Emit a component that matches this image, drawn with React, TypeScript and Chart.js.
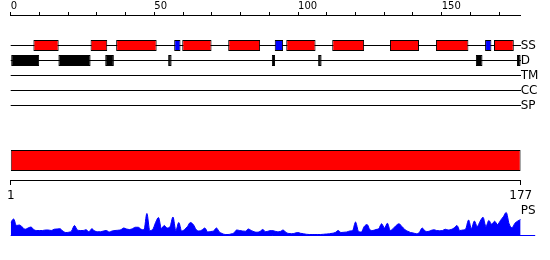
import React, { useEffect, useRef } from 'react';
import { Chart, registerables } from 'chart.js';

Chart.register(...registerables);

// ---------- data ----------
const SEQ_START = 1;
const SEQ_END = 177;
const RULER_MIN = 0;
const RULER_MAX = 177.5;
const RULER_STEP = 10;
const RULER_LABEL_EVERY = 50;

const TRACK_LABELS = ['SS', 'D', 'TM', 'CC', 'SP'];
const PS_LABEL = 'PS';

// secondary structure: helices (red) and strands (blue), [start, end] on the ruler
const HELIX_SEGMENTS: [number, number][] = [
  [7.9, 16.7], [27.8, 33.6], [36.7, 50.8], [59.7, 69.9], [75.7, 86.8],
  [95.9, 106.1], [111.9, 123.0], [132.0, 142.1], [148.0, 159.3], [168.2, 175.1],
];
const STRAND_SEGMENTS: [number, number][] = [
  [56.9, 59.1], [91.9, 94.8], [165.1, 167.3],
];
// disorder
const DISORDER_SEGMENTS: [number, number][] = [
  [0, 9.9], [16.6, 27.8], [32.9, 35.9], [54.8, 56.0], [90.9, 92.0],
  [107.0, 108.2], [161.9, 164.2], [176.2, 177.5],
];
// domain bar
const DOMAIN_SEGMENTS: [number, number][] = [[1, 177]];

// PS profile, residues 1..177
const PS_SCORES: number[] = [
  0.52, 0.66, 0.40, 0.42, 0.34, 0.25, 0.30, 0.34, 0.23, 0.20,
  0.20, 0.20, 0.22, 0.22, 0.20, 0.25, 0.26, 0.27, 0.18, 0.12,
  0.13, 0.18, 0.40, 0.22, 0.20, 0.20, 0.23, 0.15, 0.27, 0.18,
  0.15, 0.15, 0.18, 0.20, 0.14, 0.18, 0.20, 0.21, 0.23, 0.30,
  0.26, 0.24, 0.27, 0.33, 0.33, 0.25, 0.23, 0.88, 0.20, 0.24,
  0.52, 0.72, 0.28, 0.40, 0.30, 0.36, 0.74, 0.20, 0.52, 0.18,
  0.24, 0.36, 0.52, 0.44, 0.24, 0.18, 0.22, 0.30, 0.14, 0.16,
  0.18, 0.30, 0.14, 0.08, 0.04, 0.04, 0.06, 0.10, 0.22, 0.20,
  0.18, 0.17, 0.26, 0.20, 0.15, 0.13, 0.16, 0.24, 0.15, 0.18,
  0.20, 0.18, 0.15, 0.16, 0.22, 0.12, 0.08, 0.07, 0.09, 0.12,
  0.09, 0.07, 0.05, 0.04, 0.04, 0.04, 0.04, 0.04, 0.05, 0.06,
  0.07, 0.09, 0.12, 0.20, 0.12, 0.13, 0.14, 0.18, 0.20, 0.54,
  0.17, 0.14, 0.36, 0.44, 0.22, 0.20, 0.24, 0.27, 0.47, 0.30,
  0.49, 0.20, 0.28, 0.40, 0.47, 0.36, 0.24, 0.17, 0.12, 0.10,
  0.07, 0.12, 0.30, 0.18, 0.16, 0.20, 0.23, 0.20, 0.19, 0.20,
  0.25, 0.22, 0.24, 0.30, 0.40, 0.20, 0.22, 0.26, 0.62, 0.28,
  0.58, 0.36, 0.57, 0.73, 0.36, 0.60, 0.45, 0.57, 0.44, 0.60,
  0.75, 0.92, 0.47, 0.31, 0.49, 0.58, 0.64,
];
const PS_BASELINE_END = 182;

// ---------- layout (rows of the vertical layout scale) ----------
const ROW_TOP = 15;
const ROW_BOTTOM = 235.5;
const TRACK_FIRST_ROW = 45.5;
const TRACK_ROW_GAP = 15;
const DOMAIN_ROW = 160.5;
const SEQ_AXIS_ROW = 180.5;
const PS_LABEL_ROW = 210.5;
const PS_PX_PER_UNIT = 25;

const trackRow = (label: string) => TRACK_FIRST_ROW + TRACK_LABELS.indexOf(label) * TRACK_ROW_GAP;

const FONT = "'DejaVu Sans', sans-serif";
const RED = '#ff0000';
const BLUE = '#0000ff';
const BLACK = '#000000';

function segmentBars(segs: [number, number][], row: number, color: string, xAxisID: string, thickness: number) {
  return {
    type: 'bar' as const,
    indexAxis: 'y' as const,
    xAxisID,
    yAxisID: 'y',
    data: segs.map(([s, e]) => ({ x: [s, e], y: row })),
    backgroundColor: color,
    borderColor: BLACK,
    borderWidth: 1,
    borderSkipped: false,
    grouped: false,
    barThickness: thickness,
    categoryPercentage: 1,
    barPercentage: thickness / TRACK_ROW_GAP,
    inflateAmount: 0,
  };
}

export default function App() {
  const ref = useRef<HTMLCanvasElement>(null);

  useEffect(() => {
    document.body.style.margin = '0';
    const canvas = ref.current;
    if (!canvas) return;

    const rulerTicks: number[] = [];
    for (let v = RULER_MIN; v <= RULER_MAX; v += RULER_STEP) rulerTicks.push(v);
    const rowTicks = [...TRACK_LABELS.map(trackRow), PS_LABEL_ROW];
    const rowLabel = (v: number) => {
      if (v === PS_LABEL_ROW) return PS_LABEL;
      const i = TRACK_LABELS.findIndex((l) => trackRow(l) === v);
      return i >= 0 ? TRACK_LABELS[i] : '';
    };

    const chart = new Chart(canvas, {
      type: 'bar',
      data: {
        datasets: [
          segmentBars(STRAND_SEGMENTS, trackRow('SS'), BLUE, 'x', 11),
          segmentBars(HELIX_SEGMENTS, trackRow('SS'), RED, 'x', 11),
          segmentBars(DISORDER_SEGMENTS, trackRow('D'), BLACK, 'x', 11),
          segmentBars(DOMAIN_SEGMENTS, DOMAIN_ROW, RED, 'x2', 21),
          {
            type: 'line',
            xAxisID: 'x2',
            yAxisID: 'y2',
            data: PS_SCORES.map((v, i) => ({ x: SEQ_START + i, y: v })),
            fill: 'origin',
            backgroundColor: BLUE,
            borderColor: BLUE,
            borderWidth: 1,
            pointRadius: 0,
            cubicInterpolationMode: 'monotone',
          },
          {
            type: 'line',
            xAxisID: 'x2',
            yAxisID: 'y2',
            data: [{ x: SEQ_START, y: 0 }, { x: PS_BASELINE_END, y: 0 }],
            fill: false,
            borderColor: BLUE,
            borderWidth: 1,
            pointRadius: 0,
            clip: false,
          },
        ] as any,
      },
      options: {
        responsive: false,
        animation: false,
        devicePixelRatio: 1,
        events: [],
        layout: { autoPadding: false, padding: { left: 10.7, right: 0, top: 0, bottom: 260 - ROW_BOTTOM } },
        plugins: { legend: { display: false }, tooltip: { enabled: false } },
        scales: {
          x: {
            type: 'linear',
            axis: 'x',
            position: 'top',
            min: RULER_MIN,
            max: RULER_MAX,
            offset: false,
            grid: { offset: false, drawOnChartArea: false, color: BLACK, tickLength: 3, lineWidth: 1 },
            border: { display: true, color: BLACK, width: 1 },
            afterBuildTicks: (s: any) => { s.ticks = rulerTicks.map((v) => ({ value: v })); },
            ticks: {
              autoSkip: false,
              maxRotation: 0,
              align: 'start',
              padding: 0,
              color: BLACK,
              font: { family: FONT, size: 10, lineHeight: 1.2 },
              callback: (v: any) => (Number(v) % RULER_LABEL_EVERY === 0 ? String(v) : ''),
            },
          },
          x2: {
            type: 'linear',
            axis: 'x',
            position: { y: SEQ_AXIS_ROW },
            min: SEQ_START,
            max: SEQ_END,
            offset: false,
            grid: { offset: false, drawOnChartArea: false, color: BLACK, tickLength: 4, lineWidth: 1 },
            border: { display: true, color: BLACK, width: 1 },
            afterBuildTicks: (s: any) => { s.ticks = [{ value: SEQ_START }, { value: SEQ_END }]; },
            ticks: {
              autoSkip: false,
              maxRotation: 0,
              padding: 4,
              color: BLACK,
              font: { family: FONT, size: 12, lineHeight: 1.2 },
              callback: (v: any) => String(v),
            },
          },
          y: {
            type: 'linear',
            axis: 'y',
            position: 'right',
            reverse: true,
            min: ROW_TOP,
            max: ROW_BOTTOM,
            offset: false,
            grid: {
              offset: false,
              drawOnChartArea: true,
              drawTicks: false,
              tickLength: 0,
              lineWidth: 1,
              color: (ctx: any) => (ctx.tick && ctx.tick.value === PS_LABEL_ROW ? 'rgba(0,0,0,0)' : BLACK),
            },
            border: { display: false },
            afterBuildTicks: (s: any) => { s.ticks = rowTicks.map((v) => ({ value: v })); },
            afterFit: (s: any) => { s.width = 550 - 520.7; },
            ticks: {
              autoSkip: false,
              padding: 0,
              color: BLACK,
              font: { family: FONT, size: 12, lineHeight: 1.2 },
              callback: (v: any) => rowLabel(Number(v)),
            },
          },
          y2: {
            type: 'linear',
            axis: 'y',
            display: false,
            min: 0,
            max: (ROW_BOTTOM - ROW_TOP) / PS_PX_PER_UNIT,
            offset: false,
            grid: { offset: false },
          },
        },
      } as any,
    });

    return () => chart.destroy();
  }, []);

  return (
    <div style={{ width: 550, height: 260 }}>
      <canvas ref={ref} width={550} height={260} style={{ display: 'block' }} />
    </div>
  );
}
